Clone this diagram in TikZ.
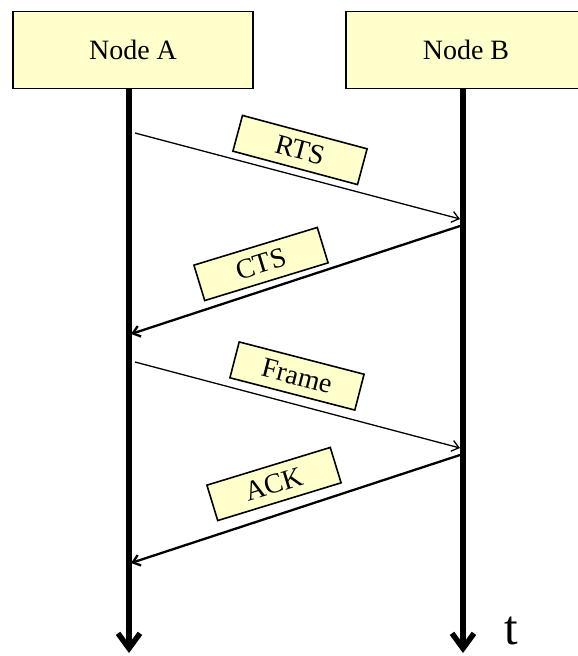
\documentclass[tikz,border=0pt]{standalone}
\usepackage{fontspec}
\setmainfont{Liberation Serif}
\usetikzlibrary{arrows.meta}
\definecolor{noteyellow}{RGB}{255,255,204}

\begin{document}
\begin{tikzpicture}[x=1pt, y=-1pt,
    station/.style={draw, line width=1.8pt, fill=noteyellow, minimum width=240pt, minimum height=77pt, font=\fontsize{28}{32}\selectfont},
    msgbox/.style={draw, line width=1.6pt, fill=noteyellow, minimum width=129pt, minimum height=37pt, inner sep=0pt, font=\fontsize{28}{32}\selectfont},
    lifeline/.style={line width=5.5pt, -{Straight Barb[length=15pt, width=22pt]}},
    thinmsg/.style={line width=1.3pt, -{Straight Barb[length=7pt, width=11pt]}},
    thickmsg/.style={line width=2.3pt, -{Straight Barb[length=7pt, width=11pt]}}]
    \useasboundingbox (0,0) rectangle (578,656);

    % Draw stations
    \node[station] (nodeA) at (133,50) {Node A};
    \node[station] (nodeB) at (466,50) {Node B};

    % Draw time axes
    \coordinate (endA) at (129,653);
    \coordinate (endB) at (463,653);
    \draw[lifeline] (nodeA.south -| endA) -- (endA);
    \draw[lifeline] (nodeB.south -| endB) -- (endB);
    \node[font=\fontsize{49}{50}\selectfont, anchor=base west, inner sep=0pt] (time) at (504,644) {t};

    \coordinate (rtsS) at (135,133);
    \coordinate (rtsE) at (460,219);
    \coordinate (ctsS) at (460,226);
    \coordinate (ctsE) at (131,334);
    \coordinate (frameS) at (135,362);
    \coordinate (frameE) at (460,448);
    \coordinate (ackS) at (460,455);
    \coordinate (ackE) at (131,563);

    % Draw messages
    \draw[thinmsg] (rtsS) -- (rtsE);
    \node[msgbox, rotate=-15] (rts) at (300,150) {RTS};
    \draw[thickmsg] (ctsS) -- (ctsE);
    \node[msgbox, rotate=17] (cts) at (261,264) {CTS};
    \draw[thinmsg] (frameS) -- (frameE);
    \node[msgbox, rotate=-14.5] (frame) at (297,376) {Frame};
    \draw[thickmsg] (ackS) -- (ackE);
    \node[msgbox, rotate=17] (ack) at (274,484) {ACK};
\end{tikzpicture}
\end{document}
